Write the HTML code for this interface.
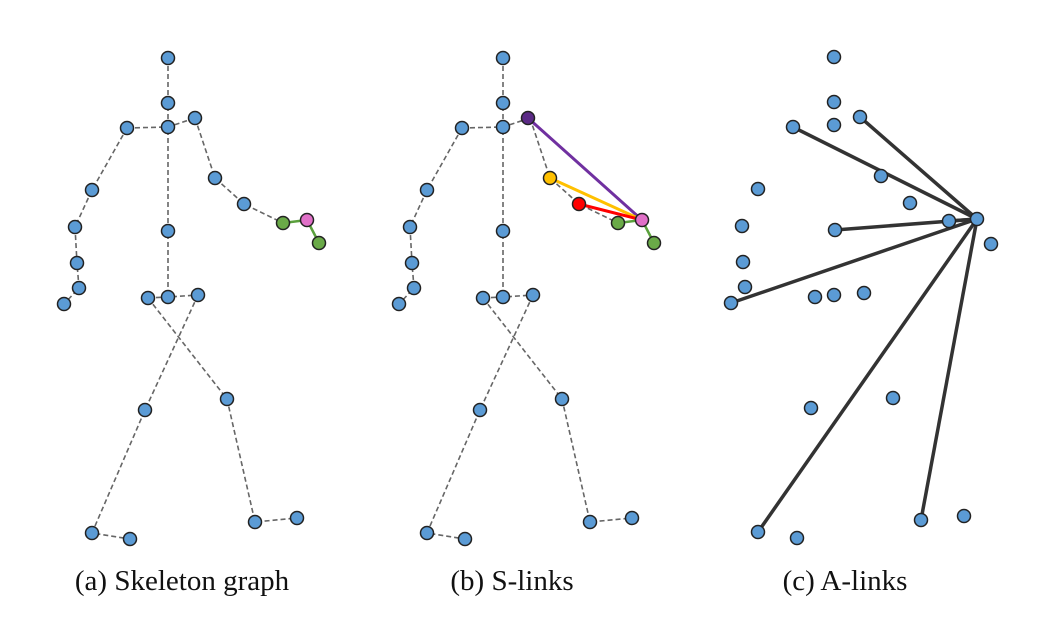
<!DOCTYPE html>
<html><head><meta charset="utf-8"><style>
html,body{margin:0;padding:0;background:#fff;}
svg{display:block;}
text{font-family:"Liberation Serif",serif;font-size:29px;fill:#111;}
</style></head><body>
<svg width="1045" height="627" viewBox="0 0 1045 627" xmlns="http://www.w3.org/2000/svg">
<defs>
<g id="sk">
<g stroke="#666" stroke-width="1.6" stroke-dasharray="5,3" fill="none">
<polyline points="168,58 168,103 168,127 168,231 168,297"/>
<polyline points="127,128 168,127 195,118"/>
<polyline points="127,128 92,190 75,227 77,263 79,288 64,304"/>
<polyline points="195,118 215,178 244,204 283,223"/>
<polyline points="148,298 168,297 198,295"/>
<polyline points="148,298 227,399 255,522 297,518"/>
<polyline points="198,295 145,410 92,533 130,539"/>
</g>
<g stroke="#5aa03c" stroke-width="2.5"><line x1="283" y1="223" x2="307" y2="220"/><line x1="307" y1="220" x2="319" y2="243"/></g>
</g>
</defs>
<!-- panel a -->
<use href="#sk"/>
<g stroke="#222" stroke-width="1.5" fill="#5b9bd5">
<circle cx="168" cy="58" r="6.5"/><circle cx="168" cy="103" r="6.5"/><circle cx="168" cy="127" r="6.5"/>
<circle cx="127" cy="128" r="6.5"/><circle cx="195" cy="118" r="6.5"/><circle cx="92" cy="190" r="6.5"/>
<circle cx="75" cy="227" r="6.5"/><circle cx="77" cy="263" r="6.5"/><circle cx="79" cy="288" r="6.5"/>
<circle cx="64" cy="304" r="6.5"/><circle cx="168" cy="231" r="6.5"/><circle cx="168" cy="297" r="6.5"/>
<circle cx="148" cy="298" r="6.5"/><circle cx="198" cy="295" r="6.5"/><circle cx="215" cy="178" r="6.5"/>
<circle cx="244" cy="204" r="6.5"/><circle cx="145" cy="410" r="6.5"/><circle cx="227" cy="399" r="6.5"/>
<circle cx="92" cy="533" r="6.5"/><circle cx="130" cy="539" r="6.5"/><circle cx="255" cy="522" r="6.5"/><circle cx="297" cy="518" r="6.5"/>
<circle cx="283" cy="223" r="6.5" fill="#6aaa48"/><circle cx="307" cy="220" r="6.5" fill="#e070c8"/><circle cx="319" cy="243" r="6.5" fill="#6aaa48"/>
</g>
<!-- panel b -->
<g transform="translate(335,0)">
<use href="#sk"/>
<line x1="193" y1="118" x2="307" y2="220" stroke="#7030a0" stroke-width="3"/>
<line x1="215" y1="178" x2="307" y2="220" stroke="#ffc000" stroke-width="3"/>
<line x1="244" y1="204" x2="307" y2="220" stroke="#ff0000" stroke-width="3"/>
<g stroke="#222" stroke-width="1.5" fill="#5b9bd5">
<circle cx="168" cy="58" r="6.5"/><circle cx="168" cy="103" r="6.5"/><circle cx="168" cy="127" r="6.5"/>
<circle cx="127" cy="128" r="6.5"/><circle cx="92" cy="190" r="6.5"/>
<circle cx="75" cy="227" r="6.5"/><circle cx="77" cy="263" r="6.5"/><circle cx="79" cy="288" r="6.5"/>
<circle cx="64" cy="304" r="6.5"/><circle cx="168" cy="231" r="6.5"/><circle cx="168" cy="297" r="6.5"/>
<circle cx="148" cy="298" r="6.5"/><circle cx="198" cy="295" r="6.5"/>
<circle cx="145" cy="410" r="6.5"/><circle cx="227" cy="399" r="6.5"/>
<circle cx="92" cy="533" r="6.5"/><circle cx="130" cy="539" r="6.5"/><circle cx="255" cy="522" r="6.5"/><circle cx="297" cy="518" r="6.5"/>
<circle cx="193" cy="118" r="6.5" fill="#5b2a86"/><circle cx="215" cy="178" r="6.5" fill="#ffc000"/><circle cx="244" cy="204" r="6.5" fill="#ff0000"/>
<circle cx="283" cy="223" r="6.5" fill="#6aaa48"/><circle cx="307" cy="220" r="6.5" fill="#e070c8"/><circle cx="319" cy="243" r="6.5" fill="#6aaa48"/>
</g>
</g>
<!-- panel c -->
<g stroke="#333" stroke-width="3.5">
<line x1="977" y1="219" x2="860" y2="117"/><line x1="977" y1="219" x2="793" y2="127"/>
<line x1="977" y1="219" x2="835" y2="230"/><line x1="977" y1="219" x2="949" y2="221"/>
<line x1="977" y1="219" x2="731" y2="303"/><line x1="977" y1="219" x2="758" y2="532"/>
<line x1="977" y1="219" x2="921" y2="520"/>
</g>
<g stroke="#222" stroke-width="1.5" fill="#5b9bd5">
<circle cx="834" cy="57" r="6.5"/><circle cx="834" cy="102" r="6.5"/><circle cx="834" cy="125" r="6.5"/>
<circle cx="793" cy="127" r="6.5"/><circle cx="860" cy="117" r="6.5"/><circle cx="758" cy="189" r="6.5"/>
<circle cx="742" cy="226" r="6.5"/><circle cx="743" cy="262" r="6.5"/><circle cx="745" cy="287" r="6.5"/>
<circle cx="731" cy="303" r="6.5"/><circle cx="835" cy="230" r="6.5"/><circle cx="815" cy="297" r="6.5"/>
<circle cx="834" cy="295" r="6.5"/><circle cx="864" cy="293" r="6.5"/><circle cx="881" cy="176" r="6.5"/>
<circle cx="910" cy="203" r="6.5"/><circle cx="949" cy="221" r="6.5"/><circle cx="977" cy="219" r="6.5"/>
<circle cx="991" cy="244" r="6.5"/><circle cx="811" cy="408" r="6.5"/><circle cx="893" cy="398" r="6.5"/>
<circle cx="758" cy="532" r="6.5"/><circle cx="797" cy="538" r="6.5"/><circle cx="921" cy="520" r="6.5"/><circle cx="964" cy="516" r="6.5"/>
</g>
<text x="182" y="590" text-anchor="middle">(a) Skeleton graph</text>
<text x="512" y="590" text-anchor="middle">(b) S-links</text>
<text x="845" y="590" text-anchor="middle">(c) A-links</text>
</svg>
</body></html>
